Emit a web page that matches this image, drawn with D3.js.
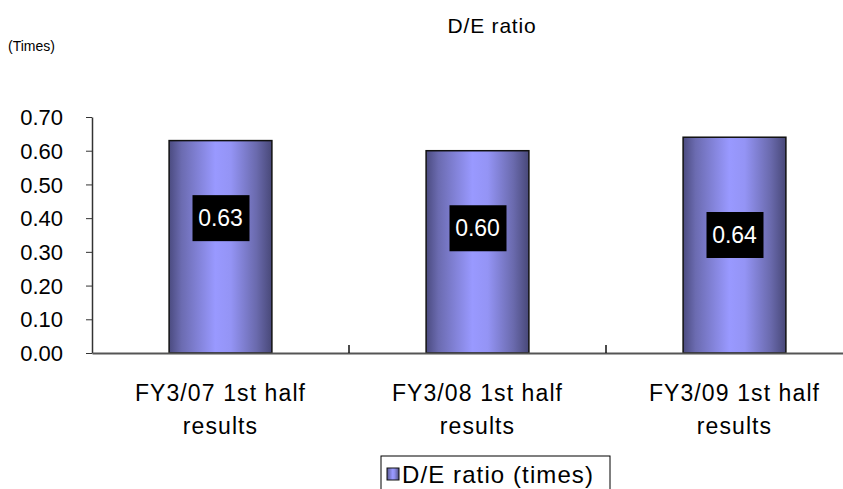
<!DOCTYPE html>
<html>
<head>
<meta charset="utf-8">
<script src="https://cdn.jsdelivr.net/npm/d3@7"></script>
<style>
  body { margin: 0; background: #fff; }
  svg { display: block; font-family: "Liberation Sans", Arial, sans-serif; }
</style>
</head>
<body>
<svg id="chart" width="843" height="489"></svg>
<script>
const categories = [["FY3/07 1st half", "results"], ["FY3/08 1st half", "results"], ["FY3/09 1st half", "results"]];
const values = [0.63, 0.60, 0.64];
const valueLabels = ["0.63", "0.60", "0.64"];
const labelPos = [0.40, 0.37, 0.35];
const yTicks = [0, 0.1, 0.2, 0.3, 0.4, 0.5, 0.6, 0.7];
const title = "D/E ratio";
const unit = "(Times)";
const legendLabel = "D/E ratio (times)";

const svg = d3.select("#chart");
const margin = { left: 92, top: 117, bottom: 353, right: 863 };

const x = d3.scaleBand().domain(d3.range(categories.length)).range([margin.left, margin.right]).paddingInner(0.6).paddingOuter(0.3);
const y = d3.scaleLinear().domain([0, 0.7]).range([margin.bottom, margin.top]);

const defs = svg.append("defs");
const grad = defs.append("linearGradient").attr("id", "barGrad").attr("x1", "0").attr("x2", "1").attr("y1", "0").attr("y2", "0");
[[0, "#4b4b80"], [0.12, "#6b6bb0"], [0.45, "#9999ff"], [0.6, "#9494f5"], [0.85, "#6a6aad"], [1, "#484878"]].forEach(([o, c]) => {
  grad.append("stop").attr("offset", o).attr("stop-color", c);
});

// title
svg.append("text").attr("x", 492).attr("y", 33).attr("text-anchor", "middle")
  .style("font-size", "21px").style("letter-spacing", "0.8px").text(title);
svg.append("text").attr("x", 8).attr("y", 51)
  .style("font-size", "14px").text(unit);

// y axis
const yAxis = d3.axisLeft(y).tickValues(yTicks).tickFormat(d3.format(".2f")).tickSize(6).tickSizeOuter(0);
const gy = svg.append("g").attr("transform", `translate(${margin.left},0)`).call(yAxis);
gy.select(".domain").attr("stroke", "#333").attr("stroke-width", 1.5);
gy.selectAll(".tick line").attr("stroke", "#333");
gy.selectAll(".tick text").style("font-size", "22px").attr("fill", "#000").attr("x", -29).attr("dy", "0.35em");

// bars
svg.selectAll("rect.bar").data(values).enter().append("rect")
  .attr("class", "bar")
  .attr("x", (d, i) => x(i))
  .attr("width", x.bandwidth())
  .attr("y", d => y(d))
  .attr("height", d => y(0) - y(d))
  .attr("fill", "url(#barGrad)")
  .attr("stroke", "#111").attr("stroke-width", 1.5);

// x axis
const xAxis = d3.axisBottom(x).tickValues([]).tickSizeOuter(0);
const gx = svg.append("g").attr("transform", `translate(0,${margin.bottom})`).call(xAxis);
gx.select(".domain").attr("stroke", "#555").attr("stroke-width", 2);
const sepTicks = d3.range(1, categories.length);
svg.selectAll("line.sep").data(sepTicks).enter().append("line")
  .attr("class", "sep")
  .attr("x1", d => x(d) - x.step() * x.paddingInner() / 2)
  .attr("x2", d => x(d) - x.step() * x.paddingInner() / 2)
  .attr("y1", margin.bottom - 8).attr("y2", margin.bottom)
  .attr("stroke", "#111").attr("stroke-width", 1.5);

// value labels
const lbl = svg.selectAll("g.vl").data(values).enter().append("g").attr("class", "vl")
  .attr("transform", (d, i) => `translate(${x(i) + x.bandwidth() / 2},${y(labelPos[i])})`);
lbl.append("rect").attr("x", -28).attr("y", -23).attr("width", 57).attr("height", 46).attr("fill", "#000");
lbl.append("text").attr("text-anchor", "middle").attr("dy", "0.35em").attr("fill", "#fff")
  .style("font-size", "23px").text((d, i) => valueLabels[i]);

// category labels
const cl = svg.selectAll("text.cat").data(categories).enter().append("text").attr("class", "cat")
  .attr("text-anchor", "middle").style("font-size", "23px").style("letter-spacing", "1.1px");
cl.selectAll("tspan").data((d, i) => d.map(t => ({ t, i }))).enter().append("tspan")
  .attr("x", d => x(d.i) + x.bandwidth() / 2)
  .attr("y", (d, j) => 401 + j * 33)
  .text(d => d.t);

// legend
const lg = svg.append("g").attr("transform", "translate(381,456)");
lg.append("rect").attr("x", 0).attr("y", 0).attr("width", 229).attr("height", 40).attr("fill", "#fff").attr("stroke", "#000").attr("stroke-width", 1);
lg.append("rect").attr("x", 6).attr("y", 12).attr("width", 12).attr("height", 12).attr("fill", "url(#barGrad)").attr("stroke", "#111");
lg.append("text").attr("x", 21).attr("y", 27).style("font-size", "24px").style("letter-spacing", "1.1px").text(legendLabel);
</script>
</body>
</html>
